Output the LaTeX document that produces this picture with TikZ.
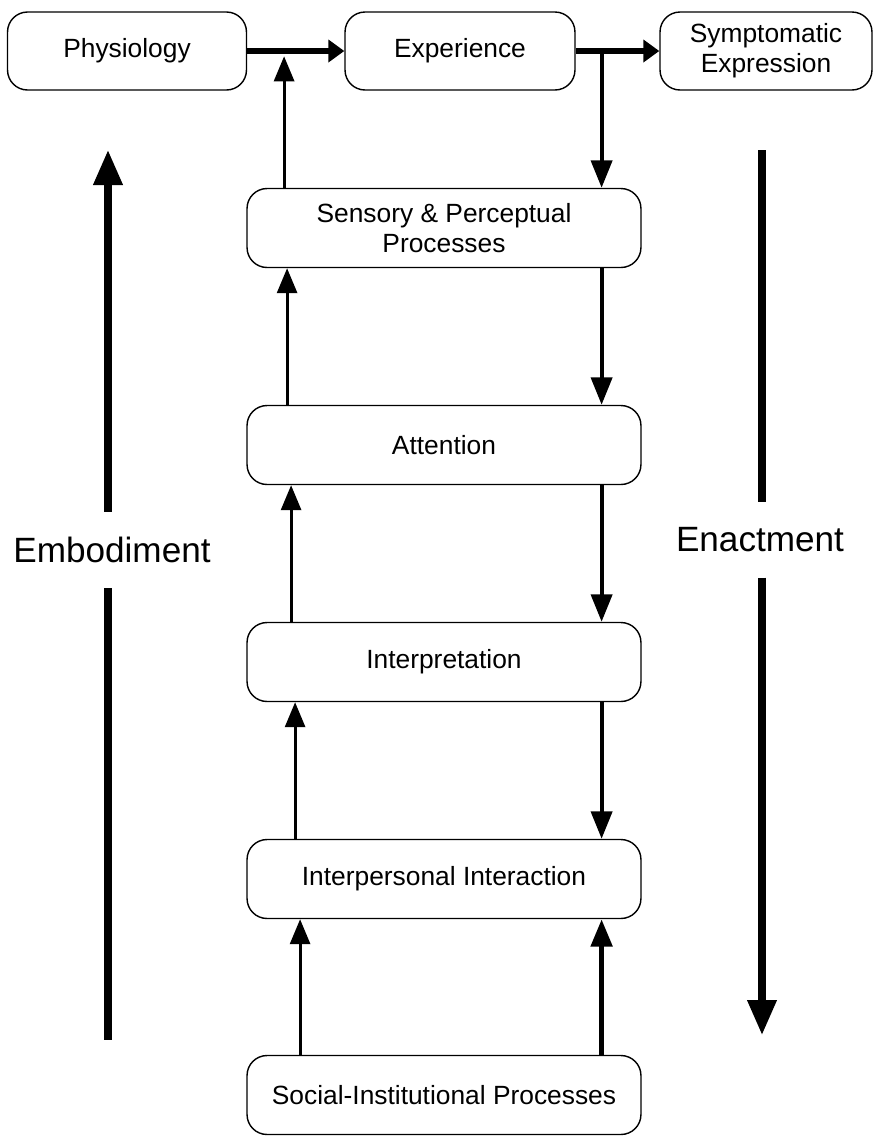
\documentclass[tikz,border=0pt]{standalone}
\usepackage{fontspec}
\setmainfont{Liberation Sans}
\usetikzlibrary{arrows.meta,calc}
\tikzset{
	box/.style={draw, line width=0.8pt, rounded corners=0.4cm, align=center, font=\fontsize{15}{17}\selectfont},
	wide/.style={box, minimum width=7.88cm, minimum height=1.58cm},
	bar/.style={line width=3.4pt, -{Triangle[length=0.32cm,width=0.44cm]}},
	link/.style={line width=1.7pt, -{Triangle[length=0.5cm,width=0.4cm]}},
	down/.style={line width=2.3pt, -{Triangle[length=0.55cm,width=0.42cm]}},
	side/.style={line width=4pt},
	sidetip/.style={side, -{Triangle[length=0.7cm,width=0.56cm]}},
	sidetext/.style={font=\fontsize{20}{24}\selectfont, inner xsep=0pt, inner ysep=0.5cm}
}
\begin{document}
\begin{tikzpicture}[x=0.02cm, y=-0.02cm]
	\useasboundingbox (0,0) rectangle (878,1137);
	% top row
	\node[box, minimum width=4.78cm, minimum height=1.56cm] (phys) at (127,51) {Physiology};
	\node[box, minimum width=4.6cm, minimum height=1.56cm] (exp) at (460,51) {Experience};
	\node[box, minimum width=4.24cm, minimum height=1.56cm] (symp) at (766,51) {Symptomatic\\Expression};
	% column
	\node[wide] (sens) at (444,228) {Sensory \& Perceptual\\Processes};
	\node[wide] (attn) at (444,445) {Attention};
	\node[wide] (interp) at (444,662) {Interpretation};
	\node[wide] (inter) at (444,879) {Interpersonal Interaction};
	\node[wide] (soc) at (444,1095) {Social-Institutional Processes};
	% junctions on the top bars
	\coordinate (j1) at ($(phys.east)!0.38!(exp.west)$);
	\coordinate (j2) at ($(exp.east)!0.31!(symp.west)$);
	\draw [bar] (phys) -- (exp);
	\draw [bar] (exp) -- (symp);
	\draw [link, shorten >=3pt] (sens.north -| j1) -- (j1);
	\draw [down] (j2) -- (sens.north -| j2);
	% up the left side
	\draw [link] ([xshift=0.06cm]attn.north -| j1) -- ([xshift=0.06cm]sens.south -| j1);
	\draw [link] ([xshift=0.14cm]interp.north -| j1) -- ([xshift=0.14cm]attn.south -| j1);
	\draw [link] ([xshift=0.22cm]inter.north -| j1) -- ([xshift=0.22cm]interp.south -| j1);
	\draw [link] ([xshift=0.32cm]soc.north -| j1) -- ([xshift=0.32cm]inter.south -| j1);
	% down the right side
	\draw [down] (sens.south -| j2) -- (attn.north -| j2);
	\draw [down] (attn.south -| j2) -- (interp.north -| j2);
	\draw [down] (interp.south -| j2) -- (inter.north -| j2);
	\draw [down, line width=3pt] (soc.north -| j2) -- (inter.south -| j2);
	% embodiment and enactment
	\node[sidetext] (emb) at (112,550) {Embodiment};
	\coordinate (embtop) at (108,150);
	\coordinate (embbot) at (108,1040);
	\draw [sidetip] (emb.north -| embtop) -- (embtop);
	\draw [side] (emb.south -| embbot) -- (embbot);
	\node[sidetext] (enact) at (760,540) {Enactment};
	\coordinate (enacttop) at (762,150);
	\coordinate (enactbot) at (762,1035);
	\draw [side] (enacttop) -- (enact.north -| enacttop);
	\draw [sidetip] (enact.south -| enactbot) -- (enactbot);
\end{tikzpicture}
\end{document}
